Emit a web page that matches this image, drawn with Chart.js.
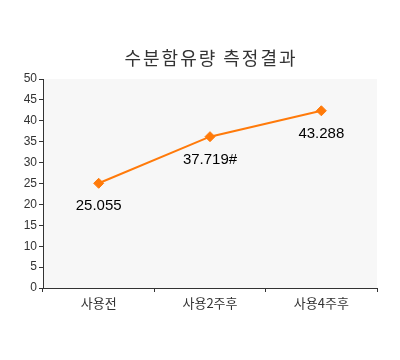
<!DOCTYPE html>
<html><head><meta charset="utf-8">
<script src="https://cdn.jsdelivr.net/npm/chart.js@4"></script>
<style>html,body{margin:0;padding:0;background:#fff}#wrap{width:400px;height:360px}</style>
</head><body><div id="wrap"><canvas id="c" width="400" height="360"></canvas></div>
<script>
const titleText = '수분함유량 측정결과';
const categories = ['사용전', '사용2주후', '사용4주후'];
const values = [25.05, 36.2, 42.4];
const valueLabels = ['25.055', '37.719#', '43.288'];
const yTicks = [0, 5, 10, 15, 20, 25, 30, 35, 40, 45, 50];

const bgPlugin = {
  id: 'bg',
  beforeDraw(chart) {
    const a = chart.chartArea, ctx = chart.ctx;
    ctx.save();
    ctx.fillStyle = '#f7f7f7';
    ctx.fillRect(a.left, a.top, a.right - a.left, a.bottom - a.top);
    ctx.restore();
  },
  afterDraw(chart) {
    const a = chart.chartArea, ctx = chart.ctx;
    ctx.save();
    ctx.font = '18px "Noto Sans CJK KR"';
    ctx.fillStyle = '#333';
    ctx.textAlign = 'center';
    ctx.textBaseline = 'middle';
    try { ctx.letterSpacing = '2px'; } catch (e) {}
    ctx.fillText(titleText, (a.left + a.right) / 2 + 1, 58);
    ctx.restore();
  }
};

const labelPlugin = {
  id: 'vlabels',
  afterDatasetsDraw(chart) {
    const ctx = chart.ctx;
    const meta = chart.getDatasetMeta(0);
    ctx.save();
    ctx.font = '15px "Liberation Sans", Arial, sans-serif';
    ctx.fillStyle = '#000';
    ctx.textAlign = 'center';
    ctx.textBaseline = 'middle';
    meta.data.forEach((pt, i) => {
      ctx.fillText(valueLabels[i], pt.x, pt.y + 23);
    });
    ctx.restore();
  }
};

new Chart(document.getElementById('c'), {
  type: 'line',
  data: {
    labels: categories,
    datasets: [{
      data: values,
      borderColor: '#ff7a0a',
      backgroundColor: '#ff7a0a',
      borderWidth: 2,
      pointStyle: 'rectRot',
      pointRadius: 5,
      pointBorderWidth: 1,
      pointBorderColor: '#ff7a0a',
      pointBackgroundColor: '#ff7a0a',
      tension: 0
    }]
  },
  options: {
    responsive: false,
    animation: false,
    devicePixelRatio: 1,
    layout: { padding: { top: 79, right: 23, left: 0, bottom: 0 } },
    plugins: { legend: { display: false }, title: { display: false }, tooltip: { enabled: false } },
    scales: {
      x: {
        offset: true,
        afterFit(s) { s.height = 72; },
        grid: { offset: true, drawOnChartArea: false, drawTicks: true, tickLength: 4, color: '#333' },
        border: { color: '#333', width: 1 },
        ticks: { color: '#333', font: { family: '"Noto Sans CJK KR"', size: 13 }, padding: 3, maxRotation: 0 }
      },
      y: {
        min: 0, max: 50,
        afterFit(s) { s.width = 43; },
        afterBuildTicks(s) { s.ticks = yTicks.map(v => ({ value: v })); },
        grid: { drawOnChartArea: false, drawTicks: true, tickLength: 4, color: '#333' },
        border: { color: '#333', width: 1 },
        ticks: { color: '#333', font: { family: '"Liberation Sans", Arial, sans-serif', size: 12 }, padding: 2 }
      }
    }
  },
  plugins: [bgPlugin, labelPlugin]
});
</script></body></html>
